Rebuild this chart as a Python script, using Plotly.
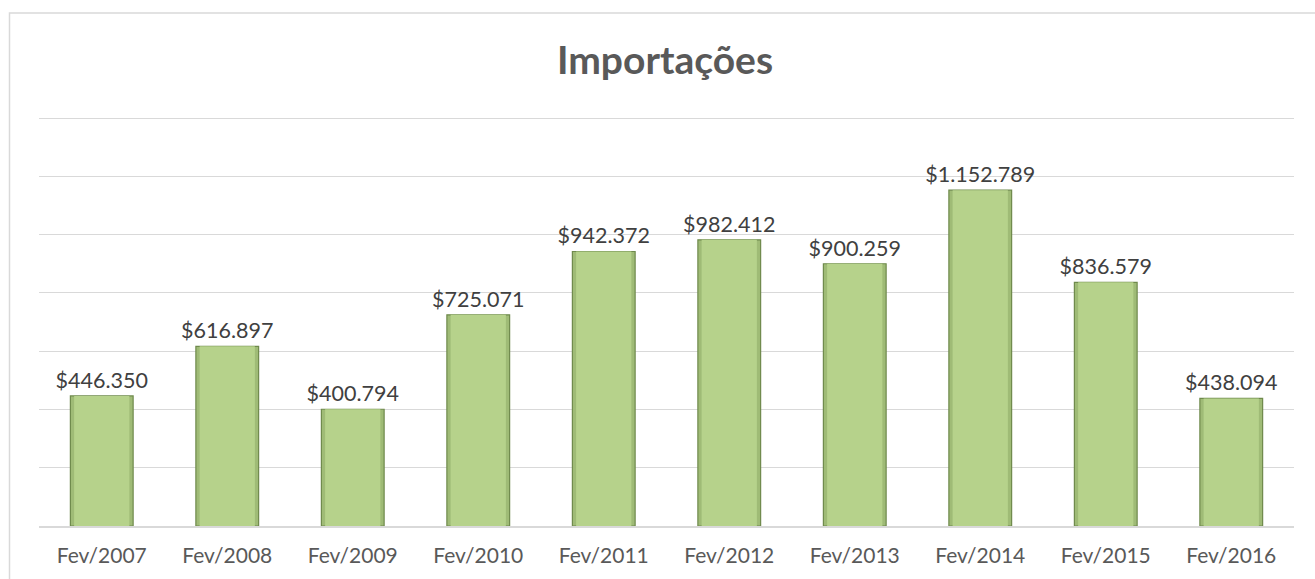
import plotly.graph_objects as go

categories = ["Fev/2007", "Fev/2008", "Fev/2009", "Fev/2010", "Fev/2011",
              "Fev/2012", "Fev/2013", "Fev/2014", "Fev/2015", "Fev/2016"]
values = [446350, 616897, 400794, 725071, 942372, 982412, 900259, 1152789, 836579, 438094]

W, H = 1315, 579
L, R, T, B = 39, 21, 117, 53
pw, ph = W - L - R, H - T - B

def px_x(x):
    return (x - L) / pw

def px_y(y):
    return (H - B - y) / ph

fig = go.Figure()
fig.add_trace(go.Bar(
    x=categories, y=values, width=0.5,
    marker=dict(color="#9fbb76", line=dict(color="#6f8a4c", width=1.2)),
    texttemplate="$%{y:,}", textposition="outside", constraintext="none",
    textfont=dict(family="Lato", size=21.5, color="#404040"),
    cliponaxis=False, hoverinfo="skip",
))
fig.add_trace(go.Bar(
    x=categories, y=values, width=0.44,
    marker=dict(color="#b6d28b", line=dict(width=0)),
    hoverinfo="skip",
))

fig.update_layout(
    width=W, height=H,
    margin=dict(l=L, r=R, t=T, b=B),
    paper_bgcolor="white", plot_bgcolor="white",
    separators=",.",
    barmode="overlay",
    showlegend=False,
    font=dict(family="Lato", color="#595959"),
    title=dict(text="<b>Importações</b>", x=665 / W, xanchor="center",
               y=1 - 60 / H, yanchor="middle", yref="container",
               font=dict(family="Lato", size=39, color="#595959")),
    xaxis=dict(showgrid=False, showline=True, linecolor="#d9d9d9", linewidth=1.5,
               ticks="", ticklabelstandoff=10,
               tickfont=dict(family="Lato", size=21, color="#595959")),
    yaxis=dict(range=[0, 1404000], tickvals=[200000, 400000, 600000, 800000, 1000000, 1200000, 1400000],
               showticklabels=False,
               gridcolor="#d9d9d9", gridwidth=1.3, zeroline=False, showline=False),
    shapes=[dict(type="rect", xref="paper", yref="paper",
                 x0=px_x(9.5), x1=px_x(1316), y0=px_y(585), y1=px_y(13),
                 line=dict(color="#d9d9d9", width=1.5), layer="below")],
)

fig.write_html("out.html", config={"displayModeBar": False},
               post_script="document.body.style.margin='0';document.body.style.overflow='hidden';")
